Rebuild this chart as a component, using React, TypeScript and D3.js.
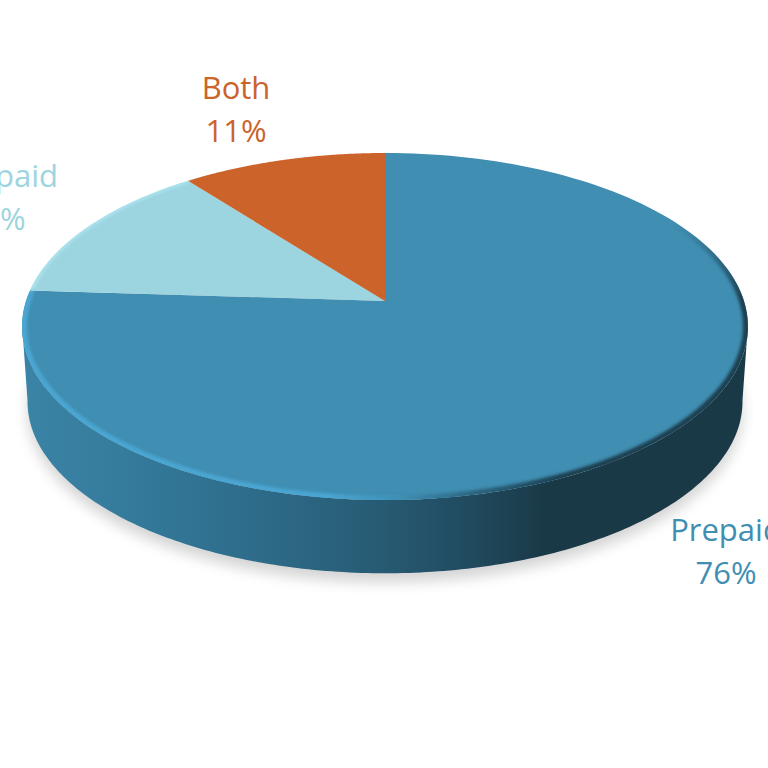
import React from "react";
import * as d3 from "d3";

const categories = ["Prepaid", "Postpaid", "Both"];
const values = [76, 13.5, 10.5];
const percentLabels = ["76%", "13%", "11%"];
const sliceColors = ["#408eb2", "#9cd5e0", "#cb632b"];
const labelColors = ["#408eb2", "#9cd5e0", "#cb632b"];
const labelAnchors: [number, number][] = [[726, 541], [-5, 187], [236, 99]];

const W = 768;
const CX = 385;
const APEX_Y = 301;
const A = 359;
const YA = 125.5;
const C = -0.147;

const project = (a: number, r = 1): [number, number] => {
  const u = Math.sin(a) * r;
  const v = -Math.cos(a) * r;
  const d = 1 + C * v;
  return [CX + (A * u) / d, (APEX_Y + YA * v) / d];
};
const lower = ([x, y]: [number, number]): [number, number] => [
  CX + (x - CX) * 0.985,
  402 + (y - 327) * 0.99,
];
const line = d3.line<[number, number]>();
const sample = (a0: number, a1: number, n = 160) =>
  d3.range(n + 1).map((i) => a0 + ((a1 - a0) * i) / n);

const pieGen = d3.pie<number>().sort(null).value((d) => d);
const arcs = pieGen(values);

const slicePath = (a0: number, a1: number) =>
  line([[CX, APEX_Y], ...sample(a0, a1).map((a) => project(a))])! + "Z";

const rad = (deg: number) => (deg * Math.PI) / 180;
const sideAngles = sample(rad(98), rad(262), 200);
const sidePath =
  line([
    ...sideAngles.map((a) => project(a)),
    ...sideAngles.slice().reverse().map((a) => lower(project(a))),
  ])! + "Z";
const fullAngles = sample(0, 2 * Math.PI, 240);
const topEllipse = line(fullAngles.map((a) => project(a)))! + "Z";
const shadowPath = line(fullAngles.map((a) => {
  const [x, y] = lower(project(a));
  return [x, y + 9] as [number, number];
}))! + "Z";
const rimPath = line(sample(rad(45), arcs[0].endAngle, 240).map((a) => project(a, 0.996)))!;
const lightRimPath = line(sample(arcs[1].startAngle, arcs[1].endAngle, 60).map((a) => project(a, 0.997)))!;

const sideStops: [number, string][] = [
  [0, "#3b84a6"],
  [0.15, "#347a9b"],
  [0.32, "#2e6c8a"],
  [0.5, "#275a73"],
  [0.62, "#204a5e"],
  [0.72, "#1a3947"],
  [1, "#1a3947"],
];
const rimStops: [number, string][] = [
  [0, "#4aa6d2"],
  [0.42, "#4aa6d2"],
  [0.52, "#3f8fb5"],
  [0.62, "#2c6580"],
  [0.75, "#1b3f50"],
  [1, "#1b3f50"],
];

export default function App() {
  return (
    <svg
      width={W}
      height={W}
      viewBox={`0 0 ${W} ${W}`}
      style={{ position: "fixed", left: 0, top: 0, display: "block", background: "#fff" }}
    >
      <defs>
        <linearGradient id="side" gradientUnits="userSpaceOnUse" x1={22} x2={748} y1={0} y2={0}>
          {sideStops.map(([o, c]) => <stop key={o} offset={o} stopColor={c} />)}
        </linearGradient>
        <linearGradient id="rim" gradientUnits="userSpaceOnUse" x1={22} x2={748} y1={0} y2={0}>
          {rimStops.map(([o, c]) => <stop key={o} offset={o} stopColor={c} />)}
        </linearGradient>
        <linearGradient id="rimFade" gradientUnits="userSpaceOnUse" x1={0} x2={0} y1={225} y2={300}>
          <stop offset={0} stopColor="#000" />
          <stop offset={1} stopColor="#fff" />
        </linearGradient>
        <mask id="rimMask" maskUnits="userSpaceOnUse" x={0} y={0} width={W} height={W}>
          <rect width={W} height={W} fill="url(#rimFade)" />
        </mask>
        <filter id="shadow" x="-10%" y="-10%" width="120%" height="120%">
          <feGaussianBlur stdDeviation={7} />
        </filter>
        <filter id="rimBlur" x="-5%" y="-5%" width="110%" height="110%">
          <feGaussianBlur stdDeviation={1.8} />
        </filter>
        <clipPath id="topClip"><path d={topEllipse} /></clipPath>
      </defs>
      <path d={shadowPath} fill="#000" opacity={0.17} filter="url(#shadow)" />
      <path d={sidePath} fill="url(#side)" />
      {arcs.map((d, i) => (
        <path key={categories[i]} d={slicePath(d.startAngle, d.endAngle)} fill={sliceColors[i]} />
      ))}
      <g clipPath="url(#topClip)">
        <g mask="url(#rimMask)">
          <path d={rimPath} fill="none" stroke="url(#rim)" strokeWidth={7} filter="url(#rimBlur)" />
        </g>
        <path d={lightRimPath} fill="none" stroke="#aee6f2" strokeWidth={3} filter="url(#rimBlur)" />
      </g>
      {categories.map((c, i) => (
        <text
          key={c}
          textAnchor="middle"
          fontFamily="'Open Sans', sans-serif"
          fontSize={31}
          fill={labelColors[i]}
        >
          <tspan x={labelAnchors[i][0]} y={labelAnchors[i][1]}>{c}</tspan>
          <tspan x={labelAnchors[i][0]} y={labelAnchors[i][1] + 43}>{percentLabels[i]}</tspan>
        </text>
      ))}
    </svg>
  );
}
